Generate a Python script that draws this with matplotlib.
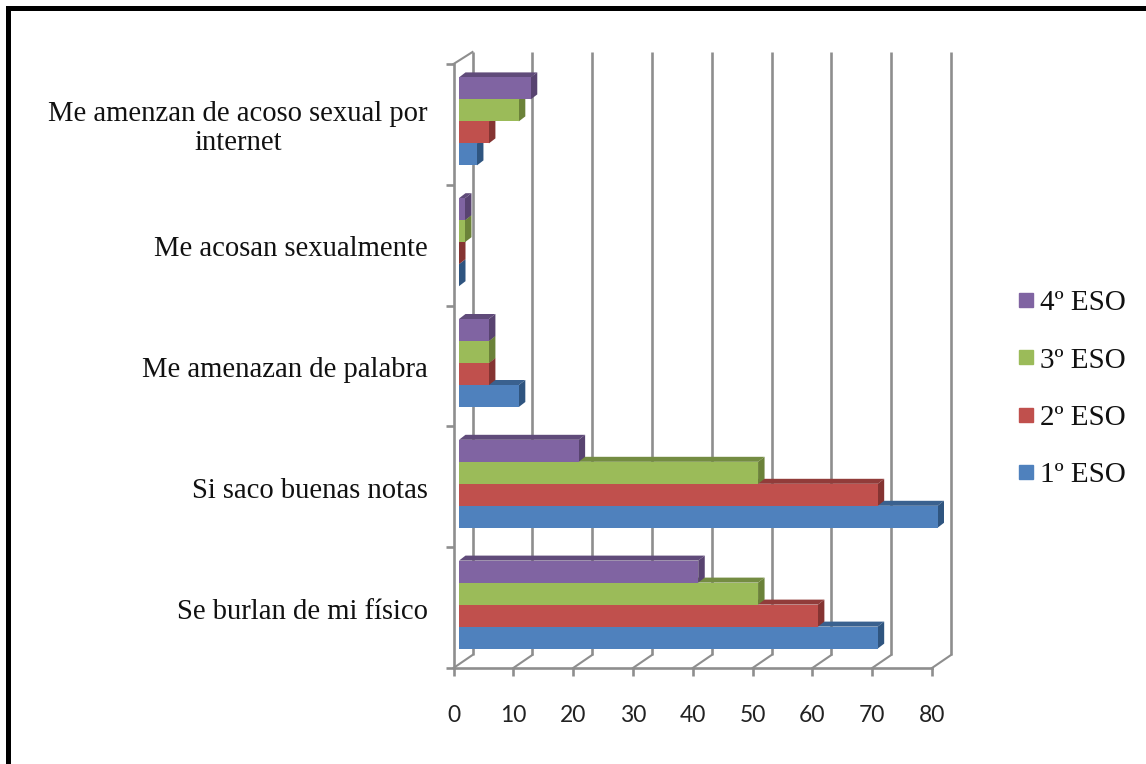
import matplotlib
matplotlib.use("Agg")
import matplotlib.pyplot as plt
from matplotlib.lines import Line2D
from matplotlib.patches import Polygon, Rectangle
from matplotlib.transforms import Affine2D

categories = [
    "Se burlan de mi físico",
    "Si saco buenas notas",
    "Me amenazan de palabra",
    "Me acosan sexualmente",
    "Me amenzan de acoso sexual por\ninternet",
]
series_names = ["1º ESO", "2º ESO", "3º ESO", "4º ESO"]
eso1 = [70, 80, 10, 0, 3]
eso2 = [60, 70, 5, 0, 5]
eso3 = [50, 50, 5, 1, 10]
eso4 = [40, 20, 5, 1, 12]
x_ticks = [0, 10, 20, 30, 40, 50, 60, 70, 80]

face_colors = ["#4f81bd", "#c0504d", "#9bbb59", "#8064a2"]
side_colors = ["#2f5580", "#853432", "#6b8239", "#584370"]
top_colors = ["#3a618f", "#913c3a", "#748c42", "#604b7a"]
grid_color = "#8e8e8e"

W, H = 1146, 764
fig = plt.figure(figsize=(W / 100, H / 100), dpi=100)

# axes box is the front floor / left wall of the excel 3d chart
left, right, top, bottom = 453.5, 932.0, 64.0, 668.0
ax = fig.add_axes([left / W, 1 - bottom / H, (right - left) / W, (bottom - top) / H])
ax.set_xlim(0, 80)
ax.set_ylim(0, 5)
ax.patch.set_alpha(0)

px_x = 80 / (right - left)
px_y = 5 / (bottom - top)


def wall_dx(px):
    return px * px_x


def wall_dy(px):
    return px * px_y


# back wall + slanted floor lines
for v in x_ticks:
    bx = v + wall_dx(19)
    ax.plot([bx, bx], [wall_dy(13), 5 + wall_dy(12)], color=grid_color, lw=1.9,
            clip_on=False, zorder=1, solid_capstyle="butt")
    ax.plot([v, bx], [0, wall_dy(13)], color=grid_color, lw=1.5, clip_on=False, zorder=1)
ax.plot([0, wall_dx(19)], [5, 5 + wall_dy(12)], color=grid_color, lw=1.5, clip_on=False, zorder=1)

# bars: front faces through barh, then the depth faces next to them
bar_h = 22 * px_y
shift_x = 5.5 * px_x
shift_y = 3.0 * px_y
depth_x = 6.5 * px_x
depth_y = 5 * px_y
offset = Affine2D().translate(5.5, 3.0)

all_series = [eso1, eso2, eso3, eso4]
z = 3
for s, vals in enumerate(all_series):
    for c, v in enumerate(vals):
        y0 = c + 0.5 + (s - 2) * bar_h + shift_y
        y1 = y0 + bar_h
        x0 = shift_x
        x1 = shift_x + v
        ax.add_patch(Polygon([(x0, y1), (x1, y1), (x1 + depth_x, y1 + depth_y), (x0 + depth_x, y1 + depth_y)],
                             closed=True, fc=top_colors[s], ec="none", zorder=z, clip_on=False))
        ax.add_patch(Polygon([(x1, y0), (x1 + depth_x, y0 + depth_y), (x1 + depth_x, y1 + depth_y), (x1, y1)],
                             closed=True, fc=side_colors[s], ec="none", zorder=z + 0.5, clip_on=False))
    ax.barh([c + 0.5 + (s - 1.5) * bar_h for c in range(5)], vals, height=bar_h, color=face_colors[s],
            zorder=z + 1, transform=ax.transData + offset, clip_on=False)
    z += 2

for name in ["top", "right"]:
    ax.spines[name].set_visible(False)
for name in ["left", "bottom"]:
    ax.spines[name].set_color(grid_color)
    ax.spines[name].set_linewidth(1.9)
    ax.spines[name].set_zorder(2)

ax.set_xticks(x_ticks)
ax.set_yticks(range(6))
ax.set_yticklabels([])
ax.tick_params(axis="both", color=grid_color, width=1.9, length=5.8)
ax.tick_params(axis="x", pad=20.5, labelsize=16.5, labelcolor="#222222")
for lab in ax.get_xticklabels():
    lab.set_fontfamily("Lato")

# category labels sit between the ticks
for c, name in enumerate(categories):
    ax.annotate(name, xy=(0, c + 0.5), xycoords=("data", "data"), xytext=(428 - left, -4),
                textcoords="offset pixels", ha="right", va="center", multialignment="center",
                fontsize=20.6, family="Liberation Serif", color="#111111", linespacing=1.17)

handles = [Line2D([], [], marker="s", ls="", ms=10, color=face_colors[s], label=series_names[s])
           for s in range(3, -1, -1)]
fig.legend(handles=handles, loc="center left", bbox_to_anchor=(1014 / W, 1 - 389 / H), frameon=False,
           prop={"family": "Liberation Serif", "size": 21}, labelspacing=1.06, handletextpad=0.05,
           handlelength=0.85, borderpad=0, borderaxespad=0, labelcolor="#111111")

# black picture frame, only top and left
fig.add_artist(Rectangle((6 / W, 1 - 11 / H), 1 - 6 / W, 5 / H, transform=fig.transFigure, fc="black", ec="none"))
fig.add_artist(Rectangle((6 / W, 0), 5 / W, 1 - 6 / H, transform=fig.transFigure, fc="black", ec="none"))

fig.savefig("out.png", dpi=100)
